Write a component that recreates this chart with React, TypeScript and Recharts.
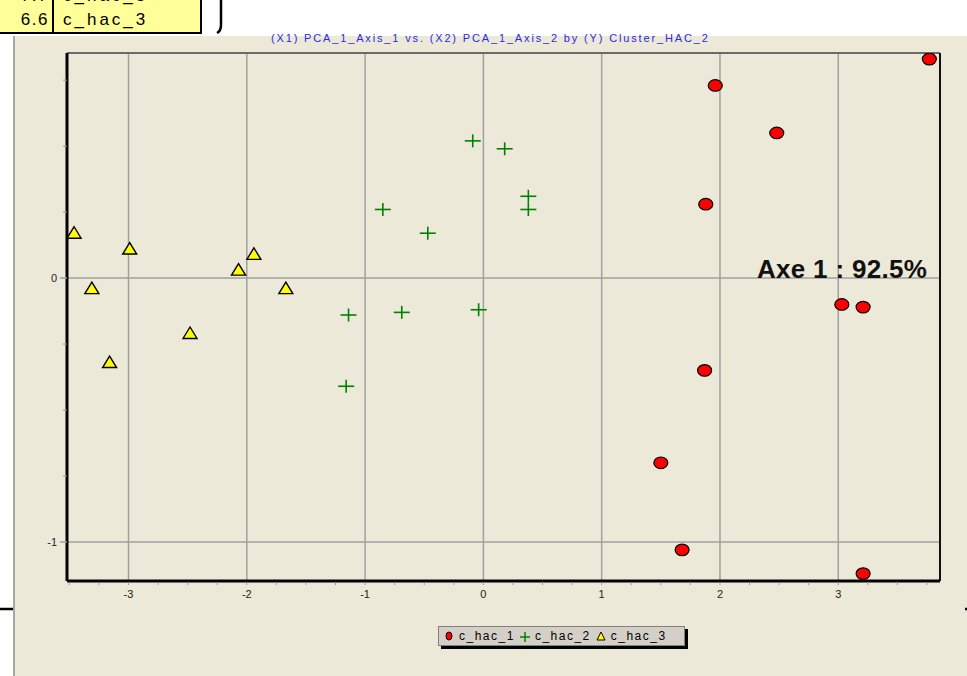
import React from 'react';
import { ScatterChart, Scatter, XAxis, YAxis, CartesianGrid, ReferenceLine } from 'recharts';

// cluster c_hac_1 (red circles)
const hac1X = [3.77, 1.96, 2.48, 1.88, 3.03, 3.21, 1.87, 1.50, 1.68, 3.21];
const hac1Y = [0.83, 0.73, 0.55, 0.28, -0.10, -0.11, -0.35, -0.70, -1.03, -1.12];

// cluster c_hac_2 (green crosses)
const hac2X = [-0.09, 0.18, 0.38, 0.38, -0.85, -0.47, -1.14, -0.69, -0.04, -1.16];
const hac2Y = [0.52, 0.49, 0.31, 0.26, 0.26, 0.17, -0.14, -0.13, -0.12, -0.41];

// cluster c_hac_3 (yellow triangles)
const hac3X = [-3.46, -2.99, -3.31, -3.16, -2.48, -2.07, -1.94, -1.67];
const hac3Y = [0.17, 0.11, -0.04, -0.32, -0.21, 0.03, 0.09, -0.04];

const xTicks = [-3.5, -3.25, -3, -2.75, -2.5, -2.25, -2, -1.75, -1.5, -1.25, -1, -0.75, -0.5, -0.25, 0, 0.25, 0.5, 0.75, 1, 1.25, 1.5, 1.75, 2, 2.25, 2.5, 2.75, 3, 3.25, 3.5, 3.75];
const yTicks = [-1, -0.75, -0.5, -0.25, 0, 0.25, 0.5, 0.75];
const xGrid = [-3, -2, -1, 0, 1, 2, 3];
const yGrid = [-1, 0];
const xDomain = [-3.52, 3.86];
const yDomain = [-1.148, 0.853];

const legendItems = ['c_hac_1', 'c_hac_2', 'c_hac_3'];
const tableRows = [
  { value: '7.7', label: 'c_hac_3' },
  { value: '6.6', label: 'c_hac_3' },
];

const zip = (xs: number[], ys: number[]) => xs.map((x, i) => ({ x, y: ys[i] }));
const data1 = zip(hac1X, hac1Y);
const data2 = zip(hac2X, hac2Y);
const data3 = zip(hac3X, hac3Y);

const FONT = 'Arial, "Liberation Sans", sans-serif';
const BEIGE = '#ECE9D8';

const Circle = (p: any) => (
  <ellipse cx={p.cx} cy={p.cy} rx={7} ry={5.8} fill="#FF0000" stroke="#000" strokeWidth={1.2} />
);
const Plus = (p: any) => (
  <g stroke="#008000" strokeWidth={1.6}>
    <line x1={p.cx - 8} x2={p.cx + 8} y1={p.cy} y2={p.cy} />
    <line x1={p.cx} x2={p.cx} y1={p.cy - 6.5} y2={p.cy + 6.5} />
  </g>
);
const Triangle = (p: any) => (
  <polygon
    points={`${p.cx},${p.cy - 6.5} ${p.cx - 7},${p.cy + 5} ${p.cx + 7},${p.cy + 5}`}
    fill="#FFFF00"
    stroke="#000"
    strokeWidth={1.4}
  />
);

const XTick = (props: any) => {
  const { x, y, payload } = props;
  const v = payload.value;
  const major = Number.isInteger(v);
  return (
    <g>
      <line x1={x} x2={x} y1={y + 1} y2={y + 4} stroke="#999" strokeWidth={1} />
      {major && (
        <text x={x} y={y + 17} textAnchor="middle" fontSize={11} fontFamily={FONT} fill="#222">
          {v}
        </text>
      )}
    </g>
  );
};

const YTick = (props: any) => {
  const { x, y, payload } = props;
  const v = payload.value;
  const major = Number.isInteger(v);
  return (
    <g>
      <line x1={x - (major ? 7 : 4)} x2={x} y1={y} y2={y} stroke={major ? '#A0A0A0' : '#999'} strokeWidth={major ? 1.5 : 1} />
      {major && (
        <text x={x - 10} y={y + 4} textAnchor="end" fontSize={11} fontFamily={FONT} fill="#222">
          {v}
        </text>
      )}
    </g>
  );
};

const LegendIcon = ({ i }: { i: number }) => (
  <svg width={12} height={12} style={{ verticalAlign: 'middle' }}>
    {i === 0 && <ellipse cx={6} cy={6} rx={3} ry={4} fill="#FF0000" stroke="#000" strokeWidth={1} />}
    {i === 1 && (
      <g stroke="#008000" strokeWidth={1.5}>
        <line x1={1} x2={11} y1={7} y2={7} />
        <line x1={6} x2={6} y1={2} y2={12} />
      </g>
    )}
    {i === 2 && <polygon points="6,2 2,10 10,10" fill="#FFFF00" stroke="#000" strokeWidth={1} />}
  </svg>
);

export default function App() {
  return (
    <div style={{ position: 'absolute', left: 0, top: 0, width: 967, height: 676, background: '#fff', overflow: 'hidden', fontFamily: FONT }}>
      {/* panel */}
      <div style={{ position: 'absolute', left: 13, top: 36, width: 952, height: 640, background: BEIGE, borderLeft: '2px solid #A8A8A8' }} />

      {/* table fragment */}
      {tableRows.map((r, i) => (
        <div key={i} style={{ position: 'absolute', left: -4, top: -18 + i * 26, height: 24, width: 202, background: '#FFFF99', border: '2px solid #000', borderTop: i === 0 ? '2px solid #000' : 'none' }}>
          <div style={{ position: 'absolute', left: 0, top: 0, width: 56, height: 24, borderRight: '2px solid #000', textAlign: 'right', fontSize: 17, letterSpacing: 1.5, lineHeight: '24px', paddingRight: 3, boxSizing: 'border-box' }}>
            {r.value}
          </div>
          <div style={{ position: 'absolute', left: 65, top: 0, fontSize: 17, letterSpacing: 3, lineHeight: '24px' }}>{r.label}</div>
        </div>
      ))}
      <svg style={{ position: 'absolute', left: 0, top: 0 }} width={967} height={676}>
        <path d="M 221 0 L 221 25 Q 221 31 217 33" stroke="#000" strokeWidth={2.5} fill="none" />
        <line x1={0} x2={13} y1={609} y2={609} stroke="#000" strokeWidth={2.5} />
        <line x1={965} x2={967} y1={609} y2={609} stroke="#000" strokeWidth={2.5} />
      </svg>

      <div style={{ position: 'absolute', left: 0, top: 0 }}>
        <ScatterChart width={967} height={676} margin={{ top: 53, right: 27, bottom: 0, left: 0 }}>
          <CartesianGrid stroke="#A0A0A0" strokeWidth={1.5} horizontalValues={yGrid} verticalValues={xGrid} />
          <XAxis
            type="number"
            dataKey="x"
            domain={xDomain}
            ticks={xTicks}
            interval={0}
            allowDataOverflow
            height={95}
            tickSize={0}
            tickMargin={0}
            tickLine={false}
            axisLine={{ stroke: '#000', strokeWidth: 3 }}
            tick={<XTick />}
          />
          <YAxis
            type="number"
            dataKey="y"
            domain={yDomain}
            ticks={yTicks}
            interval={0}
            allowDataOverflow
            width={67}
            tickSize={0}
            tickMargin={0}
            tickLine={false}
            axisLine={{ stroke: '#000', strokeWidth: 3 }}
            tick={<YTick />}
          />
          <ReferenceLine y={yDomain[1]} stroke="#6A6A6A" strokeWidth={2} />
          <ReferenceLine x={xDomain[1]} stroke="#111" strokeWidth={2} />
          <Scatter name="c_hac_1" data={data1} shape={Circle} isAnimationActive={false} />
          <Scatter name="c_hac_2" data={data2} shape={Plus} isAnimationActive={false} />
          <Scatter name="c_hac_3" data={data3} shape={Triangle} isAnimationActive={false} />
        </ScatterChart>
      </div>

      {/* title */}
      <div style={{ position: 'absolute', left: 271, top: 32, fontSize: 11, letterSpacing: 1.85, color: '#2A2AE6', whiteSpace: 'nowrap' }}>
        (X1) PCA_1_Axis_1 vs. (X2) PCA_1_Axis_2 by (Y) Cluster_HAC_2
      </div>

      {/* annotation */}
      <div style={{ position: 'absolute', left: 757, top: 254, fontSize: 26, letterSpacing: 0.3, fontWeight: 'bold', color: '#111', whiteSpace: 'nowrap', lineHeight: '30px' }}>
        Axe 1 : 92.5%
      </div>

      {/* legend */}
      <div style={{ position: 'absolute', left: 438, top: 626, width: 241, height: 18, background: '#D4D0C8', border: '1px solid #808080', boxShadow: '3px 3px 0 #000', display: 'flex', alignItems: 'center', paddingLeft: 4, boxSizing: 'content-box', fontSize: 12, letterSpacing: 1.5, whiteSpace: 'nowrap' }}>
        {legendItems.map((name, i) => (
          <span key={name} style={{ display: 'inline-flex', alignItems: 'center', marginRight: 4 }}>
            <LegendIcon i={i} />
            <span style={{ marginLeft: 4 }}>{name}</span>
          </span>
        ))}
      </div>
    </div>
  );
}
